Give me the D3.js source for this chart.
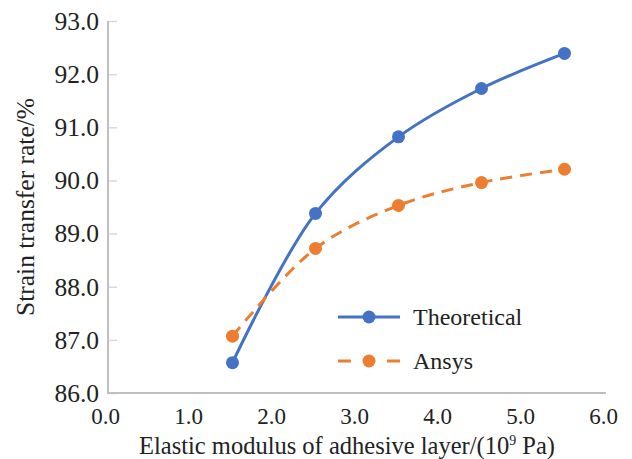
<!DOCTYPE html>
<html><head><meta charset="utf-8">
<script src="https://cdn.jsdelivr.net/npm/d3@7"></script>
<style>body{margin:0;background:#fff;}</style></head>
<body><svg id="c" width="632" height="459"></svg>
<script>
const xValues = [1.5, 2.5, 3.5, 4.5, 5.5];
const theoretical = [86.57, 89.38, 90.82, 91.73, 92.39];
const ansys = [87.07, 88.72, 89.53, 89.96, 90.21];
const xTicks = [0, 1, 2, 3, 4, 5, 6];
const yTicks = [86, 87, 88, 89, 90, 91, 92, 93];
const seriesNames = ["Theoretical", "Ansys"];
const colors = ["#4472C4", "#ED7D31"];
const FONT = "Liberation Serif";
const TXT = "#222";

const svg = d3.select("#c");
const x = d3.scaleLinear().domain([0, 6]).range([108, 606]);
const y = d3.scaleLinear().domain([86, 93]).range([393, 21]);

// y axis ticks (inward)
const ya = svg.append("g").attr("transform", "translate(108,0)")
  .call(d3.axisRight(y).tickValues(yTicks).tickSize(9).tickFormat(""));
ya.select(".domain").remove();
ya.selectAll("line").attr("stroke", "#d9d9d9").attr("stroke-width", 1.5);
svg.append("g").selectAll("text").data(yTicks).join("text")
  .attr("x", 99).attr("y", d => y(d)).attr("dy", "0.35em").attr("font-family", FONT).attr("fill", TXT)
  .attr("text-anchor", "end").attr("font-size", 25.5).text(d => d.toFixed(1));

// x axis labels
const xa = svg.append("g").attr("transform", "translate(0,393)")
  .call(d3.axisBottom(x).tickValues(xTicks).tickSize(0).tickPadding(0).tickFormat(d => d.toFixed(1)));
xa.attr("font-family", FONT);
xa.select(".domain").remove();
xa.selectAll("text").attr("font-family", FONT).attr("font-size", 23).attr("dx", -3).attr("y", 23).attr("dy", "0.35em")
  .attr("fill", TXT);

// axis lines
svg.append("path").attr("d", `M${x(0)},${y(93)}V${y(86)}H${x(6)}`)
  .attr("fill", "none").attr("stroke", "#bfbfbf").attr("stroke-width", 2);

const line = d3.line().x((d, i) => x(xValues[i])).y(d => y(d)).curve(d3.curveCatmullRom.alpha(0.5));
const data = [theoretical, ansys];
data.forEach((s, k) => {
  svg.append("path").attr("d", line(s)).attr("fill", "none")
    .attr("stroke", colors[k]).attr("stroke-width", 3)
    .attr("stroke-dasharray", k === 1 ? "12,8" : null);
  svg.append("g").selectAll("circle").data(s).join("circle")
    .attr("cx", (d, i) => x(xValues[i])).attr("cy", d => y(d)).attr("r", 6.5)
    .attr("fill", colors[k]);
});

// legend
const lg = svg.append("g");
seriesNames.forEach((n, k) => {
  const ly = 317 + k * 44;
  if (k === 0) {
    lg.append("line").attr("x1", 338).attr("x2", 400).attr("y1", ly).attr("y2", ly)
      .attr("stroke", colors[k]).attr("stroke-width", 3);
  } else {
    [[338, 351], [387, 400]].forEach(([a, b]) => lg.append("line").attr("x1", a).attr("x2", b)
      .attr("y1", ly).attr("y2", ly).attr("stroke", colors[k]).attr("stroke-width", 3));
  }
  lg.append("circle").attr("cx", 369).attr("cy", ly).attr("r", 6.5).attr("fill", colors[k]);
  lg.append("text").attr("x", 413).attr("y", ly).attr("dy", "0.35em").attr("font-family", FONT).attr("fill", TXT)
    .attr("font-size", 24).text(n);
});

// axis titles
const xt = svg.append("text").attr("x", 347).attr("y", 454).attr("font-family", FONT).attr("fill", TXT)
  .attr("text-anchor", "middle").attr("font-size", 24.5);
xt.append("tspan").text("Elastic modulus of adhesive layer/(10");
xt.append("tspan").attr("font-size", 14).attr("dy", -9).text("9");
xt.append("tspan").attr("dy", 9).text(" Pa)");
svg.append("text").attr("transform", "translate(25,207) rotate(-90)").attr("dy", "0.35em").attr("font-family", FONT).attr("fill", TXT)
  .attr("text-anchor", "middle").attr("font-size", 25.5).text("Strain transfer rate/%");
</script></body></html>
